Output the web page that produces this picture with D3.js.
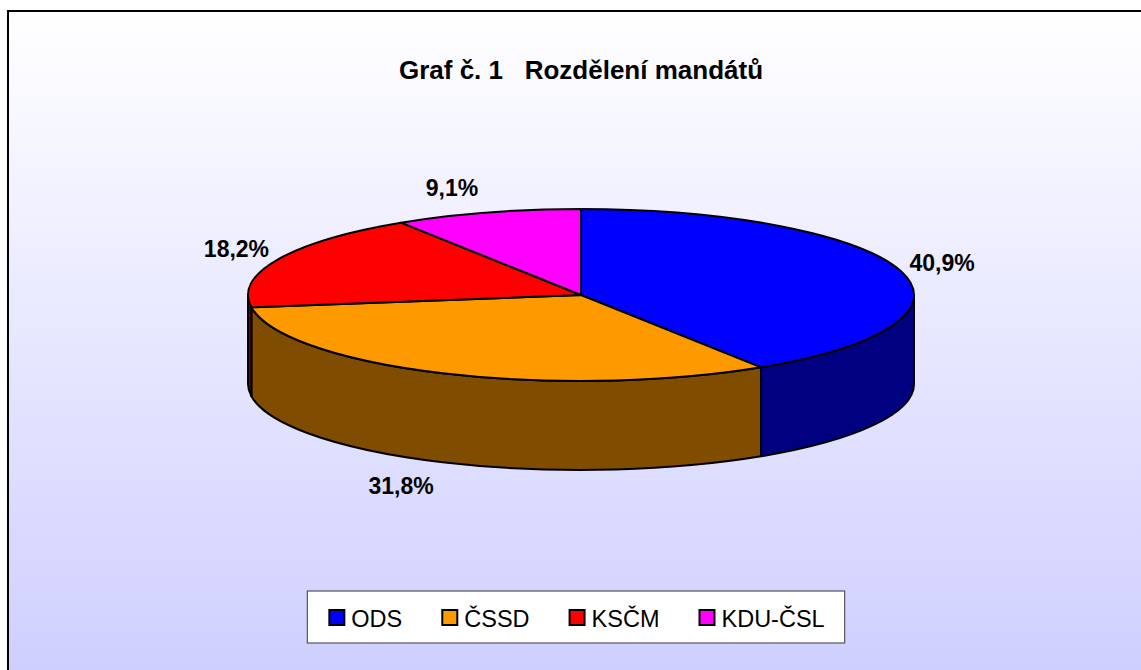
<!DOCTYPE html>
<html>
<head>
<meta charset="utf-8">
<script src="https://cdn.jsdelivr.net/npm/d3@7/dist/d3.min.js"></script>
<style>
  html, body { margin: 0; padding: 0; background: #fff; }
  svg { display: block; }
  text { font-family: "Liberation Sans", Arial, sans-serif; }
</style>
</head>
<body>
<div id="chart"></div>
<script>
// data
var parties = ['ODS', 'ČSSD', 'KSČM', 'KDU-ČSL'];
var mandates = [9, 7, 4, 2];
var topColors = ['#0000ff', '#ff9900', '#ff0000', '#ff00ff'];
var sideColors = ['#000080', '#7f4c00', '#800000', '#800080'];
var title = 'Graf č. 1   Rozdělení mandátů';

var width = 1141, height = 670;
var cx = 581, cy = 295, rx = 333, ry = 86, depth = 89;

var svg = d3.select('#chart').append('svg')
  .attr('width', width)
  .attr('height', height);

// background
var grad = svg.append('defs').append('linearGradient')
  .attr('id', 'bg').attr('x1', 0).attr('y1', 0).attr('x2', 0).attr('y2', 1);
grad.append('stop').attr('offset', '0%').attr('stop-color', '#ffffff');
grad.append('stop').attr('offset', '100%').attr('stop-color', '#ccccff');

svg.append('rect')
  .attr('x', 8).attr('y', 11)
  .attr('width', 1140).attr('height', 700)
  .attr('fill', 'url(#bg)')
  .attr('stroke', '#000').attr('stroke-width', 2);

svg.append('text')
  .attr('x', 581).attr('y', 79)
  .attr('text-anchor', 'middle')
  .style('white-space', 'pre')
  .attr('font-size', 26).attr('font-weight', 'bold')
  .text(title);

// pie geometry
var total = d3.sum(mandates);
var pie = d3.pie().sort(null).startAngle(0).endAngle(2 * Math.PI);
var arcs = pie(mandates);

function pt(a, dy) {
  return [cx + rx * Math.sin(a), cy - ry * Math.cos(a) + (dy || 0)];
}

function topPath(d) {
  var p0 = pt(d.startAngle), p1 = pt(d.endAngle);
  var large = (d.endAngle - d.startAngle) > Math.PI ? 1 : 0;
  return 'M' + [cx, cy] + 'L' + p0 + 'A' + [rx, ry, 0, large, 1] + ' ' + p1 + 'Z';
}

// only the front half of the rim is visible
function wallPath(d) {
  var a = Math.max(d.startAngle, Math.PI / 2),
    b = Math.min(d.endAngle, 3 * Math.PI / 2);
  if (b <= a) return null;
  var large = (b - a) > Math.PI ? 1 : 0;
  return 'M' + pt(a) + 'A' + [rx, ry, 0, large, 1] + ' ' + pt(b) +
    'L' + pt(b, depth) + 'A' + [rx, ry, 0, large, 0] + ' ' + pt(a, depth) + 'Z';
}

var g = svg.append('g');

g.selectAll('.wall')
  .data(arcs.filter(function(d) { return wallPath(d) !== null; }))
  .enter().append('path')
  .attr('class', 'wall')
  .attr('d', wallPath)
  .attr('fill', function(d) { return sideColors[d.index]; })
  .attr('stroke', '#000').attr('stroke-width', 2)
  .attr('stroke-linejoin', 'round');

g.selectAll('.slice')
  .data(arcs)
  .enter().append('path')
  .attr('class', 'slice')
  .attr('d', topPath)
  .attr('fill', function(d) { return topColors[d.index]; })
  .attr('stroke', '#000').attr('stroke-width', 2)
  .attr('stroke-linejoin', 'round');

// labels
var fmt = d3.formatLocale({decimal: ',', thousands: ' ', grouping: [3], currency: ['', '']}).format('.1%');

var labels = g.selectAll('.plabel')
  .data(arcs)
  .enter().append('text')
  .attr('class', 'plabel')
  .attr('font-size', 23).attr('font-weight', 'bold')
  .attr('text-anchor', 'middle')
  .attr('dy', '0.35em')
  .text(function(d) { return fmt(d.value / total); });

labels.each(function(d) {
  var w = this.getComputedTextLength();
  var m = (d.startAngle + d.endAngle) / 2;
  var s = Math.sin(m), c = Math.cos(m);
  var x = cx + rx * s + (s >= 0 ? 1 : -1) * (w / 2 + 9);
  var y = cy - ry * c - c * 26 + (c < 0 ? depth : 0);
  d3.select(this).attr('x', x).attr('y', y);
});

// legend
var legend = svg.append('g');
var box = legend.append('rect')
  .attr('fill', '#fff').attr('stroke', '#555').attr('stroke-width', 1.2);
var items = legend.append('g');

var xpos = 0;
parties.forEach(function(p, i) {
  items.append('rect')
    .attr('x', xpos).attr('y', 610)
    .attr('width', 15).attr('height', 15)
    .attr('fill', topColors[i])
    .attr('stroke', '#000').attr('stroke-width', 2);
  var t = items.append('text')
    .attr('x', xpos + 22).attr('y', 627)
    .attr('font-size', 23.5)
    .text(p);
  xpos += 22 + t.node().getComputedTextLength() + 40;
});
var legendW = xpos - 40;
var bw = legendW + 42;
var bx = 576 - bw / 2;
box.attr('x', bx).attr('y', 591).attr('width', bw).attr('height', 52);
items.attr('transform', 'translate(' + (bx + 22) + ',0)');
</script>
</body>
</html>
